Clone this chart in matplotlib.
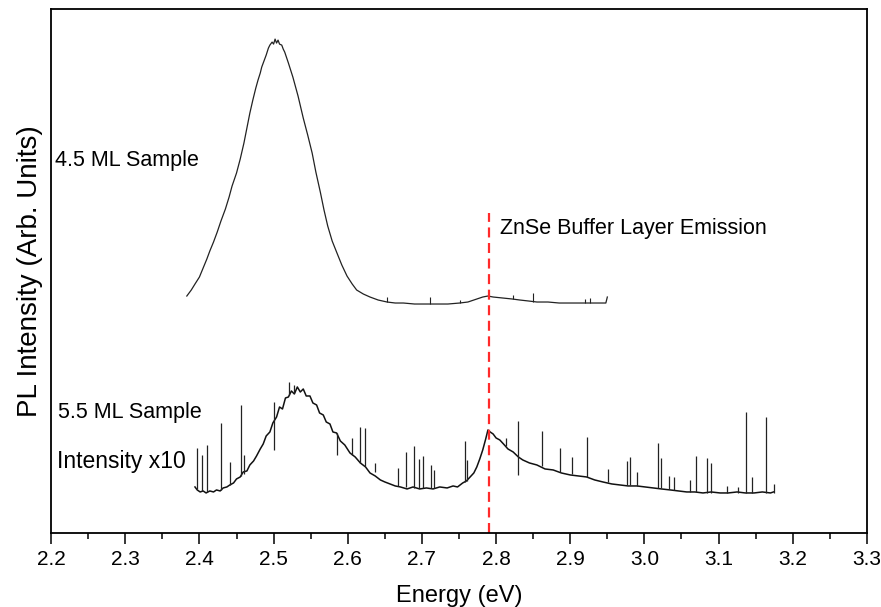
import numpy as np
import matplotlib
matplotlib.use("Agg")
import matplotlib.pyplot as plt

plt.rcParams['font.family'] = ['Liberation Sans', 'DejaVu Sans']

# 4.5 ML sample (upper trace), energy in eV, intensity arb. units
up_x = [2.383, 2.389, 2.394, 2.400, 2.405, 2.410, 2.414, 2.419, 2.424, 2.429,
        2.435, 2.440, 2.444, 2.450, 2.455, 2.460, 2.464, 2.468, 2.472, 2.476,
        2.479, 2.482, 2.484, 2.487, 2.490, 2.493, 2.495, 2.498, 2.500, 2.502,
        2.504, 2.506, 2.508, 2.511, 2.513, 2.515, 2.520, 2.526, 2.533, 2.540,
        2.546, 2.552, 2.557, 2.563, 2.568, 2.573, 2.579, 2.586, 2.592, 2.599,
        2.606, 2.612, 2.621, 2.630, 2.641, 2.653, 2.664, 2.675, 2.690, 2.705,
        2.720, 2.735, 2.751, 2.762, 2.774, 2.782, 2.789, 2.796, 2.809, 2.822,
        2.832, 2.844, 2.855, 2.870, 2.885, 2.900, 2.915, 2.930, 2.944, 2.948,
        2.950]
up_y = [237, 243, 249, 256, 265, 274, 282, 291, 301, 312,
        324, 336, 347, 360, 374, 390, 405, 420, 433, 445,
        453, 460, 466, 472, 478, 485, 488, 491, 489, 494,
        490, 493, 489, 488, 484, 481, 470, 456, 437, 415,
        398, 380, 361, 341, 323, 307, 292, 279, 268, 257,
        249, 243, 239, 236, 233, 231, 230, 230, 229, 229,
        229, 229, 230, 231, 234, 236, 237, 236, 235, 234,
        233, 232, 231, 231, 230, 230, 230, 230, 230, 230,
        236]
up_spk_x = [2.653, 2.711, 2.751, 2.823, 2.850, 2.920, 2.927]
up_spk_lo = [231, 229, 230, 234, 231, 230, 230]
up_spk_hi = [236, 236, 233, 238, 240, 234, 235]

# 5.5 ML sample (lower trace, x10)
lo_x = [2.394, 2.397, 2.401, 2.405, 2.409, 2.414, 2.419, 2.423, 2.428, 2.432,
        2.437, 2.441, 2.446, 2.450, 2.455, 2.459, 2.464, 2.468, 2.473, 2.477,
        2.482, 2.486, 2.490, 2.495, 2.499, 2.504, 2.508, 2.512, 2.516, 2.520,
        2.524, 2.528, 2.532, 2.536, 2.540, 2.544, 2.549, 2.553, 2.558, 2.562,
        2.567, 2.571, 2.576, 2.580, 2.585, 2.590, 2.596, 2.603, 2.610, 2.617,
        2.624, 2.630, 2.637, 2.644, 2.650, 2.657, 2.664, 2.671, 2.680, 2.688,
        2.697, 2.706, 2.715, 2.724, 2.734, 2.742, 2.748, 2.755, 2.760, 2.765,
        2.770, 2.774, 2.778, 2.782, 2.786, 2.789, 2.792, 2.796, 2.800, 2.805,
        2.810, 2.816, 2.823, 2.830, 2.836, 2.845, 2.855, 2.866, 2.877, 2.888,
        2.900, 2.911, 2.922, 2.933, 2.944, 2.956, 2.967, 2.978, 2.990, 3.001,
        3.012, 3.023, 3.035, 3.046, 3.057, 3.068, 3.079, 3.090, 3.102, 3.113,
        3.125, 3.136, 3.148, 3.159, 3.170, 3.174]
lo_y = [46, 43, 41, 42, 40, 42, 41, 43, 42, 45,
        46, 48, 50, 54, 56, 61, 62, 68, 72, 77,
        84, 89, 97, 101, 110, 116, 126, 124, 135, 136,
        142, 139, 146, 141, 144, 137, 137, 130, 128, 120,
        118, 111, 109, 101, 100, 92, 88, 80, 76, 70,
        66, 60, 57, 53, 51, 49, 47, 46, 44, 46,
        44, 45, 44, 46, 45, 47, 46, 50, 52, 56,
        60, 66, 74, 83, 94, 103, 101, 99, 95, 93,
        89, 84, 81, 76, 73, 70, 68, 64, 63, 60,
        58, 57, 56, 53, 51, 49, 48, 47, 47, 46,
        45, 44, 43, 42, 41, 41, 40, 41, 40, 40,
        41, 40, 40, 41, 40, 41]
lo_spk_x = [2.397, 2.404, 2.410, 2.429, 2.441, 2.456, 2.460, 2.501, 2.521, 2.528,
            2.585, 2.606, 2.617, 2.623, 2.637, 2.668, 2.679, 2.689, 2.696, 2.702,
            2.712, 2.716, 2.758, 2.761, 2.813, 2.830, 2.862, 2.886, 2.902, 2.923,
            2.951, 2.977, 2.981, 2.990, 3.018, 3.022, 3.033, 3.040, 3.061, 3.070,
            3.084, 3.090, 3.111, 3.126, 3.137, 3.145, 3.164, 3.175]
lo_spk_lo = [44, 42, 41, 43, 48, 57, 59, 83, 138, 140,
             78, 78, 70, 67, 61, 47, 46, 45, 45, 45,
             45, 45, 51, 52, 87, 58, 67, 61, 59, 56,
             51, 48, 48, 47, 45, 45, 44, 43, 41, 41,
             40, 40, 40, 40, 40, 40, 40, 40]
lo_spk_hi = [85, 78, 88, 110, 71, 128, 78, 131, 151, 148,
             100, 95, 106, 105, 70, 65, 81, 87, 74, 77,
             68, 63, 92, 73, 95, 112, 102, 85, 76, 96,
             64, 72, 76, 61, 90, 75, 57, 56, 53, 77,
             75, 70, 47, 46, 121, 56, 116, 49]

znse_energy = 2.790
znse_top = 320
x_ticks = [2.2, 2.3, 2.4, 2.5, 2.6, 2.7, 2.8, 2.9, 3.0, 3.1, 3.2, 3.3]

fig = plt.figure(figsize=(8.81, 6.07), dpi=100)
ax = fig.add_axes([0.058, 0.122, 0.926, 0.863])

ax.plot(up_x, up_y, color='#222222', lw=0.9)
ax.vlines(up_spk_x, up_spk_lo, up_spk_hi, color='#222222', lw=0.8)
ax.plot(lo_x, lo_y, color='#111111', lw=1.1)
ax.vlines(lo_spk_x, lo_spk_lo, lo_spk_hi, color='#222222', lw=0.9)

ax.plot([znse_energy, znse_energy], [0, znse_top], color='#ff2a2a',
        lw=1.6, ls=(0, (4.5, 2.5)))

ax.text(2.2055, 373, '4.5 ML Sample', fontsize=15.5, va='center')
ax.text(2.805, 305, 'ZnSe Buffer Layer Emission', fontsize=15.5, va='center')
ax.text(2.209, 120, '5.5 ML Sample', fontsize=15.5, va='center')
ax.text(2.208, 71, 'Intensity x10', fontsize=16.5, va='center')

ax.set_xlim(2.2, 3.3)
ax.set_ylim(0, 524)
ax.set_xticks(x_ticks)
ax.set_xticklabels(['%.1f' % t for t in x_ticks])
ax.set_xticks(np.arange(2.25, 3.3, 0.1), minor=True)
ax.set_yticks([])
ax.tick_params(axis='x', which='major', direction='out', length=8, width=1.1,
               labelsize=15, pad=4)
ax.tick_params(axis='x', which='minor', direction='out', length=4, width=1.1)
for s in ax.spines.values():
    s.set_linewidth(1.3)

ax.set_xlabel('Energy (eV)', fontsize=17, labelpad=12)
ax.set_ylabel('PL Intensity (Arb. Units)', fontsize=20, labelpad=6)

fig.savefig('out.png', dpi=100)
